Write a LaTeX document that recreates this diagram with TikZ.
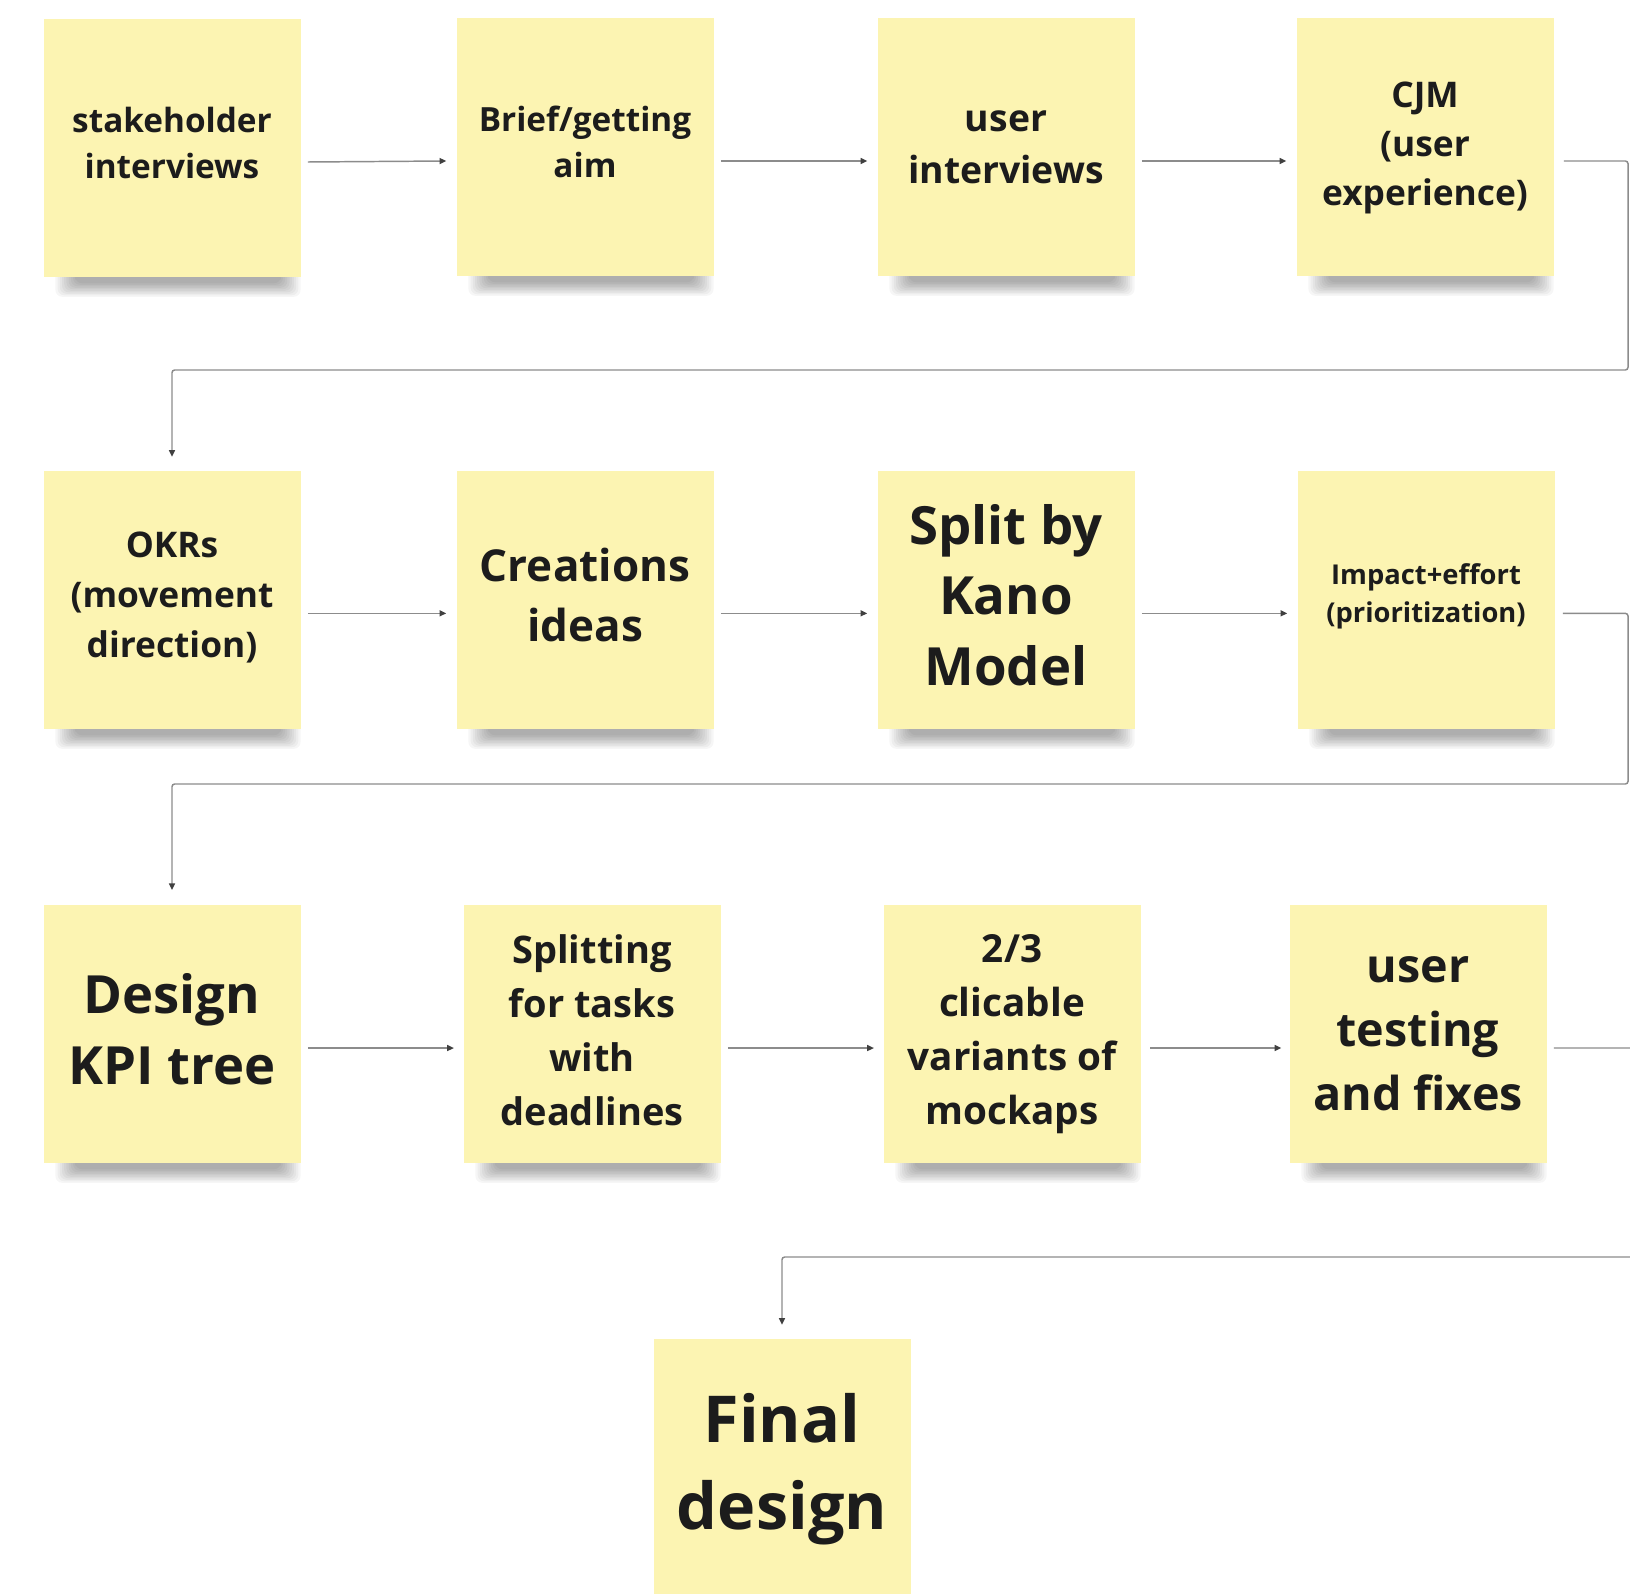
\documentclass[tikz,border=0pt]{standalone}
\usepackage{fontspec}
\setmainfont{Open Sans}
\usetikzlibrary{arrows.meta,calc,backgrounds}
\definecolor{sticky}{HTML}{FCF4B2}
\definecolor{conn}{HTML}{8C8C8C}
\definecolor{ink}{HTML}{1C1C1C}
\newcommand\nfs[2]{\bfseries\fontsize{#1}{#2}\selectfont}
\begin{document}
\begin{tikzpicture}[x=0.75pt,y=-0.75pt,
  note/.style={fill=sticky, minimum width=192.75pt, minimum height=193.5pt, inner sep=0pt},
  txt/.style={align=center, text=ink, inner sep=0pt},
  flow/.style={draw=conn, line width=1.1pt, rounded corners=2pt, -{Triangle[length=5pt,width=4.5pt,color=black!75]}},
  hop/.style={flow, shorten >=7.5pt}
]
\useasboundingbox (0,0) rectangle (1630,1594);

% sticky notes
\node[note] (A) at (172,148) {};
\node[note] (B) at (585,147) {};
\node[note] (C) at (1006,147) {};
\node[note] (D) at (1425,147) {};
\node[note] (E) at (172,600) {};
\node[note] (F) at (585,600) {};
\node[note] (G) at (1006,600) {};
\node[note] (H) at (1426,600) {};
\node[note] (I) at (172,1034) {};
\node[note] (J) at (592,1034) {};
\node[note] (K) at (1012,1034) {};
\node[note] (L) at (1418,1034) {};
\node[note] (M) at (782,1468) {};

% texts
\node[txt, font=\nfs{25}{34.5}] (At) at ($(A)+(0,-5)$) {stakeholder\\interviews};
\node[txt, font=\nfs{25}{34.5}] (Bt) at ($(B)+(0,-5)$) {Brief/getting\\aim};
\node[txt, font=\nfs{28}{39}] (Ct) at (C) {user\\interviews};
\node[txt, font=\nfs{26.5}{36.75}] (Dt) at ($(D)+(0,1)$) {CJM\\(user\\experience)};
\node[txt, font=\nfs{26.5}{37.5}] (Et) at ($(E)+(0,-3)$) {OKRs\\(movement\\direction)};
\node[txt, font=\nfs{33}{45}] (Ft) at ($(F)+(0,-5)$) {Creations\\ideas};
\node[txt, font=\nfs{39.5}{53}] (Gt) at ($(G)+(0,-5)$) {Split by\\Kano\\Model};
\node[txt, font=\nfs{20.5}{28.5}] (Ht) at ($(H)+(0,-4)$) {Impact+effort\\(prioritization)};
\node[txt, font=\nfs{39.5}{53}] (It) at ($(I)+(0,-5)$) {Design\\KPI tree};
\node[txt, font=\nfs{28.5}{40.5}] (Jt) at ($(J)+(0,-4)$) {Splitting\\for tasks\\with\\deadlines};
\node[txt, font=\nfs{29}{40.5}] (Kt) at (K) {2/3\\clicable\\variants of\\mockaps};
\node[txt, font=\nfs{35}{48}] (Lt) at (L) {user\\testing\\and fixes};
\node[txt, font=\nfs{48.5}{65}] (Mt) at ($(M)+(0,1)$) {Final\\design};

% background and shadows
\begin{scope}[on background layer]
\fill[white] (0,0) rectangle (1630,1594);
\foreach \n in {A,B,C,D,E,F,G,H,I,J,K,L}{
  \foreach \i in {0,...,9}{
    \fill[black,opacity=0.035,rounded corners=5pt]
      ($(\n.south west)+(32-2.2*\i,-4-\i)$) rectangle ($(\n.south east)+(-20+2.2*\i,6+1.5*\i)$);
  }
}
\end{scope}

% wrap points
\coordinate (r1) at (1628,370);
\coordinate (r2) at (1628,784);
\coordinate (r3) at (1634,1257);

% row 1 connectors
\draw[flow] ([xshift=5.25pt,yshift=-10.5pt]A.east) -- ([xshift=-7.5pt,yshift=-10.5pt]B.west);
\draw[flow] ([xshift=5.25pt,yshift=-10.5pt]B.east) -- ([xshift=-7.5pt,yshift=-10.5pt]C.west);
\draw[flow] ([xshift=5.25pt,yshift=-10.5pt]C.east) -- ([xshift=-7.5pt,yshift=-10.5pt]D.west);
\draw[hop,shorten >=10.5pt] ([xshift=7.5pt,yshift=-10.5pt]D.east) -| (r1) -| (E.north);
% row 2 connectors
\draw[flow] ([xshift=5.25pt,yshift=-10pt]E.east) -- ([xshift=-7.5pt,yshift=-10pt]F.west);
\draw[flow] ([xshift=5.25pt,yshift=-10pt]F.east) -- ([xshift=-7.5pt,yshift=-10pt]G.west);
\draw[flow] ([xshift=5.25pt,yshift=-10pt]G.east) -- ([xshift=-7.5pt,yshift=-10pt]H.west);
\draw[hop,shorten >=11pt] ([xshift=6pt,yshift=-10pt]H.east) -| (r2) -| (I.north);
% row 3 connectors
\draw[flow] ([xshift=5.25pt,yshift=-10.5pt]I.east) -- ([xshift=-7pt,yshift=-10.5pt]J.west);
\draw[flow] ([xshift=5.25pt,yshift=-10.5pt]J.east) -- ([xshift=-7pt,yshift=-10.5pt]K.west);
\draw[flow] ([xshift=7pt,yshift=-10.5pt]K.east) -- ([xshift=-6pt,yshift=-10.5pt]L.west);
\draw[hop,shorten >=10.5pt] ([xshift=5.25pt,yshift=-10.5pt]L.east) -| (r3) -| (M.north);
\end{tikzpicture}
\end{document}
